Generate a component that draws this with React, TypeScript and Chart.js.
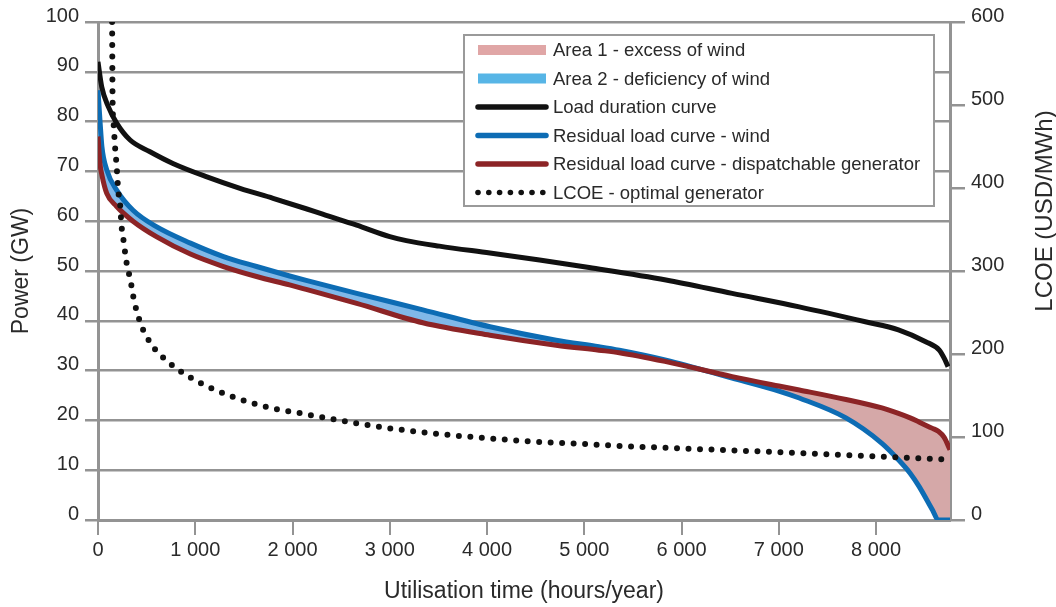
import React, { useEffect, useRef } from "react";
import { Chart, registerables } from "chart.js";

Chart.register(...registerables);

// ---------- data ----------
const residualHours = [0, 20, 40, 90, 190, 360, 600, 950, 1290, 1630, 1970, 2140, 2660, 3340, 4030, 4710, 5150, 5360, 5840, 6520, 7000, 7210, 7690, 8060, 8230, 8350, 8440, 8580, 8640, 8700, 8760];
const windResidual = [86.3, 80.3, 75, 70.3, 66.3, 62.2, 58.9, 55.6, 52.9, 50.9, 49.0, 48.1, 45.5, 42.2, 38.8, 36.1, 34.8, 34.1, 32.1, 28.5, 25.9, 24.5, 20.5, 15.4, 12.1, 9.4, 6.8, 2.0, 0, 0, 0];
const dispatchResidual = [77, 71.6, 69.3, 65.6, 63, 60, 56.9, 53.4, 50.9, 48.9, 47.2, 46.3, 43.5, 39.6, 37.1, 35.1, 34.1, 33.6, 31.8, 28.8, 26.9, 26.1, 24.2, 22.5, 21.4, 20.5, 19.7, 18.4, 17.8, 16.6, 14.1];

const loadHours = [0, 38, 106, 192, 330, 530, 770, 1120, 1460, 1800, 2140, 2310, 2660, 3000, 3170, 3510, 4030, 4540, 5050, 5840, 6520, 7210, 7890, 8230, 8510, 8650, 8710, 8740];
const loadDuration = [92, 87, 83, 79.7, 76.3, 74, 71.6, 68.9, 66.6, 64.6, 62.5, 61.4, 59.2, 56.9, 56.1, 55, 53.6, 52.2, 50.7, 48.2, 45.5, 42.8, 39.8, 38.2, 35.8, 34.1, 32.1, 30.8];

const lcoeHours = [145, 150, 160, 175, 192, 209, 226, 243, 260, 295, 322, 346, 363, 431, 541, 705, 903, 1122, 1348, 1584, 1820, 2064, 2313, 2656, 2998, 3340, 3683, 4025, 4367, 4709, 5051, 5325, 6865, 8700];
const lcoeValues = [600, 505, 478, 450, 426, 396, 382, 353, 339, 309, 295, 281, 269, 239, 213, 192, 175, 161, 150, 141, 134, 129, 123.7, 116.5, 110.5, 105.7, 101.6, 98.4, 95.2, 93.1, 91.2, 89.5, 82.3, 73.1];

const xTickValues = [0, 1000, 2000, 3000, 4000, 5000, 6000, 7000, 8000];

const legendLabels = [
  "Area 1 - excess of wind",
  "Area 2 - deficiency of wind",
  "Load duration curve",
  "Residual load curve - wind",
  "Residual load curve - dispatchable generator",
  "LCOE - optimal generator",
];
const xAxisTitle = "Utilisation time (hours/year)";
const leftAxisTitle = "Power (GW)";
const rightAxisTitle = "LCOE (USD/MWh)";

// ---------- styles ----------
const FONT = "'Liberation Sans', Arial, Helvetica, sans-serif";
const C_BLACK = "#111111";
const C_BLUE = "#0d6cb4";
const C_RED = "#8c2426";
const C_FILL_BLUE = "#80b8e8";
const C_FILL_PINK = "#d5a8a8";
const C_LEG_PINK = "#e0a6a6";
const C_LEG_BLUE = "#57b5e6";
const C_GRID = "#939393";
const C_TEXT = "#2a2a2a";

const toPts = (xs: number[], ys: number[]) => xs.map((x, i) => ({ x, y: ys[i] }));

const overlayPlugin = {
  id: "overlay",
  afterDraw(chart: any) {
    const ctx: CanvasRenderingContext2D = chart.ctx;
    ctx.save();
    // right axis title
    ctx.fillStyle = C_TEXT;
    ctx.font = `24px ${FONT}`;
    ctx.textAlign = "center";
    ctx.textBaseline = "middle";
    ctx.translate(1045, 211);
    ctx.rotate(-Math.PI / 2);
    ctx.fillText(rightAxisTitle, 0, 0);
    ctx.restore();

    // legend box
    ctx.save();
    const x0 = 464, y0 = 35, w = 470, h = 171;
    ctx.fillStyle = "#ffffff";
    ctx.fillRect(x0, y0, w, h);
    ctx.strokeStyle = "#9a9a9a";
    ctx.lineWidth = 2;
    ctx.strokeRect(x0, y0, w, h);
    const rowY = (i: number) => 50 + i * 28.5;
    const sx0 = 478, sx1 = 546;
    legendLabels.forEach((label, i) => {
      const y = rowY(i);
      if (i === 0 || i === 1) {
        ctx.fillStyle = i === 0 ? C_LEG_PINK : C_LEG_BLUE;
        ctx.fillRect(sx0, y - 5, sx1 - sx0, 10);
      } else if (i === 5) {
        ctx.fillStyle = C_BLACK;
        for (let k = 0; k < 7; k++) {
          ctx.beginPath();
          ctx.arc(sx0 + k * 10.8, y, 2.8, 0, Math.PI * 2);
          ctx.fill();
        }
      } else {
        ctx.strokeStyle = i === 2 ? C_BLACK : i === 3 ? C_BLUE : C_RED;
        ctx.lineWidth = 5.5;
        ctx.lineCap = "round";
        ctx.beginPath();
        ctx.moveTo(sx0, y);
        ctx.lineTo(sx1, y);
        ctx.stroke();
      }
      ctx.fillStyle = C_TEXT;
      ctx.font = `18.5px ${FONT}`;
      ctx.textAlign = "left";
      ctx.textBaseline = "middle";
      ctx.fillText(label, 553, y + 1);
    });
    ctx.restore();
  },
};

export default function App() {
  const ref = useRef<HTMLCanvasElement | null>(null);

  useEffect(() => {
    if (!ref.current) return;
    const chart = new Chart(ref.current, {
      type: "line",
      data: {
        datasets: [
          {
            label: legendLabels[2],
            data: toPts(loadHours, loadDuration),
            borderColor: C_BLACK,
            borderWidth: 5,
            pointRadius: 0,
            cubicInterpolationMode: "monotone",
            yAxisID: "y",
            order: 1,
            fill: false,
          },
          {
            label: legendLabels[3],
            data: toPts(residualHours, windResidual),
            borderColor: C_BLUE,
            borderWidth: 5,
            pointRadius: 0,
            cubicInterpolationMode: "monotone",
            yAxisID: "y",
            order: 3,
            fill: { target: 2, above: C_FILL_BLUE, below: C_FILL_PINK },
          },
          {
            label: legendLabels[4],
            data: toPts(residualHours, dispatchResidual),
            borderColor: C_RED,
            borderWidth: 5,
            pointRadius: 0,
            cubicInterpolationMode: "monotone",
            yAxisID: "y",
            order: 2,
            fill: false,
          },
          {
            label: legendLabels[5],
            data: toPts(lcoeHours, lcoeValues),
            borderColor: C_BLACK,
            borderWidth: 6,
            borderDash: [0, 11.5],
            borderCapStyle: "round",
            pointRadius: 0,
            cubicInterpolationMode: "monotone",
            yAxisID: "y2",
            order: 0,
            fill: false,
          },
        ] as any,
      },
      options: {
        animation: false,
        responsive: false,
        devicePixelRatio: 1,
        layout: { padding: { top: 22, left: 0, right: 0, bottom: 0 } },
        plugins: {
          legend: { display: false },
          tooltip: { enabled: false },
        },
        scales: {
          x: {
            type: "linear",
            min: 0,
            max: 8760,
            afterFit: (s: any) => {
              s.height = 87;
            },
            afterBuildTicks: (s: any) => {
              s.ticks = xTickValues.map((v) => ({ value: v }));
            },
            ticks: {
              autoSkip: false,
              color: C_TEXT,
              font: { family: FONT, size: 20 },
              padding: 3,
              maxRotation: 0,
              callback: (v: any) => {
                const n = Number(v);
                return n >= 1000 ? `${Math.floor(n / 1000)} 000` : String(n);
              },
            },
            grid: {
              drawOnChartArea: false,
              drawTicks: true,
              tickLength: 15,
              color: C_GRID,
              lineWidth: 2,
            },
            border: { display: true, color: C_GRID, width: 3 },
            title: {
              display: true,
              text: xAxisTitle,
              color: C_TEXT,
              font: { family: FONT, size: 23 },
              padding: { top: 0, bottom: 2 },
            },
          },
          y: {
            type: "linear",
            position: "left",
            min: 0,
            max: 100,
            afterFit: (s: any) => {
              s.width = 98;
            },
            ticks: {
              stepSize: 10,
              autoSkip: false,
              color: C_TEXT,
              font: { family: FONT, size: 20 },
              padding: 6,
              labelOffset: -6,
            },
            grid: {
              drawOnChartArea: true,
              drawTicks: true,
              tickLength: 13,
              color: C_GRID,
              lineWidth: 2.5,
            },
            border: { display: true, color: C_GRID, width: 3 },
            title: {
              display: true,
              text: leftAxisTitle,
              color: C_TEXT,
              font: { family: FONT, size: 23 },
              padding: { top: 8, bottom: 0 },
            },
          },
          y2: {
            type: "linear",
            position: "right",
            min: 0,
            max: 600,
            afterFit: (s: any) => {
              s.width = 106;
            },
            ticks: {
              stepSize: 100,
              autoSkip: false,
              color: C_TEXT,
              font: { family: FONT, size: 20 },
              padding: 6,
              labelOffset: -6,
            },
            grid: {
              drawOnChartArea: false,
              drawTicks: true,
              tickLength: 15,
              color: C_GRID,
              lineWidth: 2.5,
            },
            border: { display: true, color: C_GRID, width: 3 },
          },
        },
      } as any,
      plugins: [overlayPlugin],
    });
    return () => chart.destroy();
  }, []);

  return (
    <div style={{ position: "fixed", left: 0, top: 0, width: 1056, height: 607, background: "#ffffff" }}>
      <canvas ref={ref} width={1056} height={607} style={{ display: "block" }} />
    </div>
  );
}
